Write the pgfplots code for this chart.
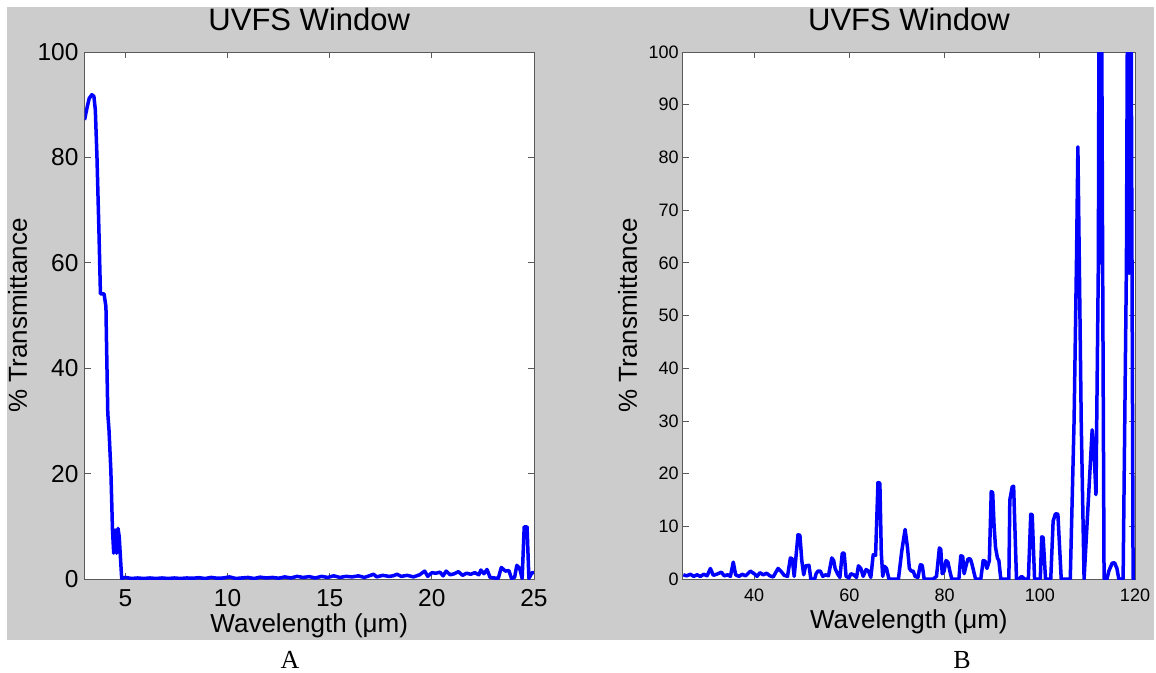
\documentclass[border=0pt]{standalone}
\usepackage{fontspec}
\setmainfont{Liberation Sans}
\newfontfamily\timesfont{Liberation Serif}
\usepackage{pgfplots}
\pgfplotsset{compat=1.18}
\definecolor{figgray}{RGB}{204,204,204}
\definecolor{axcol}{RGB}{90,90,90}
\pgfplotsset{
  matlab/.style={
    scale only axis,
    axis background/.style={fill=white},
    axis line style={draw=axcol, line width=0.8pt},
    every tick/.style={draw=axcol, line width=0.8pt},
    major tick length=6pt,
    tick align=inside,
    ymin=0, ymax=100,
    /pgf/number format/assume math mode=true,
    title={UVFS Window},
    every axis title/.style={at={(axis description cs:0.5,1.0417)}, anchor=base, inner sep=0pt, font=\fontsize{31}{37}\selectfont},
    xlabel={Wavelength (μm)},
    ylabel={\% Transmittance},
  },
}
\begin{document}
\begin{tikzpicture}[x=1pt,y=1pt]
\useasboundingbox (0,0) rectangle (1156,-672);
\fill[white] (0,0) rectangle (1156,-672);
\fill[figgray] (7,-7) rectangle (1154,-640);

\begin{axis}[matlab,
  at={(84.5pt,-579pt)}, anchor=south west,
  width=449.5pt, height=527pt,
  xmin=3, xmax=25,
  xtick={5,10,15,20,25}, ytick={0,20,40,60,80,100},
  xticklabel style={anchor=base, inner sep=0pt, yshift=-27.7pt, font=\fontsize{24.5}{29}\selectfont},
  yticklabel style={anchor=east, inner sep=0pt, xshift=-5.8pt, font=\fontsize{24.5}{29}\selectfont},
  every axis x label/.style={at={(axis description cs:0.5,-0.1006)}, anchor=base, inner sep=0pt, font=\fontsize{26}{31}\selectfont},
  every axis y label/.style={at={(axis description cs:-0.128,0.5)}, rotate=90, anchor=base, inner sep=0pt, font=\fontsize{26}{31}\selectfont},
]
\addplot[blue, line width=3.5pt, line join=round] coordinates {
(3.0,87.1) (3.14,89.7) (3.23,91.2) (3.36,91.9) (3.46,91.6) (3.53,89) (3.61,80.1)
(3.71,65.5) (3.78,54.1) (3.96,54.1) (4.05,51.6) (4.07,46.5) (4.14,31.4) (4.2,28.2)
(4.29,20.6) (4.37,9.3) (4.43,4.9) (4.5,9.3) (4.57,4.9) (4.64,9.6) (4.7,8) (4.82,0.1)
(5.0,0.3) (5.3,0.1) (5.6,0.2) (5.9,0.1) (6.2,0.2) (6.5,0.1) (6.8,0.2) (7.1,0.1)
(7.4,0.2) (7.7,0.1) (8.0,0.2) (8.3,0.15) (8.6,0.25) (8.9,0.1) (9.2,0.3) (9.5,0.15)
(9.8,0.2) (10.1,0.4) (10.4,0.1) (10.7,0.2) (11.0,0.3) (11.3,0.1) (11.6,0.35) (11.9,0.2)
(12.2,0.3) (12.5,0.15) (12.8,0.4) (13.1,0.2) (13.4,0.5) (13.7,0.3) (14.0,0.45) (14.3,0.2)
(14.6,0.5) (14.9,0.3) (15.2,0.6) (15.5,0.3) (15.8,0.5) (16.1,0.4) (16.4,0.6) (16.7,0.3)
(17.0,0.7) (17.15,0.9) (17.3,0.4) (17.6,0.7) (17.9,0.5) (18.1,0.6) (18.3,0.9) (18.5,0.5)
(18.8,0.7) (19.1,0.4) (19.4,0.8) (19.65,1.5) (19.8,0.5) (20.0,1.2) (20.2,1.1) (20.4,1.3)
(20.55,0.6) (20.7,1.5) (20.9,0.8) (21.1,1.0) (21.3,1.4) (21.5,0.7) (21.7,1.1) (21.9,0.9)
(22.1,1.2) (22.3,0.8) (22.4,1.7) (22.55,1.0) (22.7,1.8) (22.85,0.3) (23.05,0.2) (23.25,0.1)
(23.4,2.2) (23.6,1.5) (23.77,1.6) (23.9,0.1) (24.05,0.3) (24.16,2.6) (24.3,2.0) (24.42,0.1)
(24.52,9.9) (24.66,9.9) (24.75,0.1) (24.9,1.2) (25.0,1.2)
};
\end{axis}

\begin{axis}[matlab,
  at={(682.8pt,-579pt)}, anchor=south west,
  width=452.2pt, height=527pt,
  xmin=25, xmax=120,
  xtick={40,60,80,100,120}, ytick={0,10,...,100},
  xticklabel style={anchor=base, inner sep=0pt, yshift=-22.7pt, font=\fontsize{18}{22}\selectfont},
  yticklabel style={anchor=east, inner sep=0pt, xshift=-4pt, font=\fontsize{18}{22}\selectfont},
  every axis x label/.style={at={(axis description cs:0.5,-0.093)}, anchor=base, inner sep=0pt, font=\fontsize{26}{31}\selectfont},
  every axis y label/.style={at={(axis description cs:-0.1017,0.5)}, rotate=90, anchor=base, inner sep=0pt, font=\fontsize{26}{31}\selectfont},
]
\addplot[blue, line width=3.5pt, line join=round] coordinates {
(25.1,0.8) (25.8,0.6) (26.6,0.9) (27.3,0.5) (28.0,0.8) (28.7,0.5) (29.4,0.9) (30.1,0.6)
(30.8,2.0) (31.4,0.7) (32.1,0.9) (33.1,1.3) (33.7,0.6) (34.4,0.8) (35.0,0.5) (35.6,3.2)
(36.1,0.8) (36.8,0.5) (37.5,0.9) (38.2,0.6) (39.2,1.5) (40.0,1.0) (40.6,0.5) (41.2,1.2)
(41.9,0.8) (42.6,1.1) (43.3,0.6) (44.0,0.4) (45.0,2.0) (45.6,1.5) (46.3,0.7) (47.0,0.5)
(47.6,4.0) (48.0,3.8) (48.4,0.5) (49.2,8.4) (49.6,8.3) (50.0,3.5) (50.4,0.8) (50.8,2.5)
(51.5,2.6) (51.9,0) (52.7,0) (53.0,1.0) (53.4,1.5) (53.9,1.5) (54.4,0.5) (55.0,0.8)
(55.6,0.6) (56.3,4.0) (56.7,3.5) (57.0,2.0) (57.5,1.0) (58.0,0.3) (58.5,4.9) (58.9,4.9)
(59.3,0.5) (59.9,0.2) (60.3,1.0) (60.9,0.8) (61.5,0.3) (61.9,2.5) (62.4,2.0) (62.9,0.5)
(63.5,1.8) (64.0,1.5) (64.5,0.3) (65.0,4.6) (65.5,4.5) (66.0,18.3) (66.4,18.2) (66.7,5)
(67.0,0.5) (67.4,2.4) (67.8,2.0) (68.3,0) (70.3,0) (71.0,5.3) (71.7,9.4) (72.2,6)
(72.6,2.0) (73.0,1.5) (73.4,1.5) (73.8,0.5) (74.4,0.3) (74.9,2.7) (75.3,2.6) (75.7,0)
(77.6,0) (78.3,0.5) (78.9,5.9) (79.2,5.6) (79.5,1.0) (79.9,1.5) (80.3,3.5) (80.7,3.2)
(81.1,1.5) (81.5,0) (83.0,0) (83.4,4.4) (83.8,4.3) (84.1,1.0) (84.5,2.5) (84.9,3.8)
(85.4,3.8) (85.7,3.0) (86.5,0) (87.6,0) (88.1,3.5) (88.5,3.4) (88.9,2.0) (89.4,3.5)
(89.8,16.6) (90.1,16.4) (90.4,10) (90.7,6) (91.1,4) (91.4,3.5) (91.8,0) (93.5,0)
(93.7,15) (94.2,17.5) (94.5,17.6) (95.1,0) (95.7,0) (96.0,0.4) (96.4,0.4) (96.6,0)
(97.6,0) (98.1,12.3) (98.4,12.2) (98.9,0) (100.1,0) (100.4,8.0) (100.7,7.9) (101.2,0)
(102.3,0) (102.8,11.0) (103.3,12.4) (103.8,12.3) (104.5,0) (106.4,0) (107.2,30)
(107.7,60) (108.0,82) (108.3,60) (108.7,30) (109.3,0) (110.2,15) (111.0,28.3) (111.4,24)
(111.8,16) (112.3,60) (112.5,130) (112.8,60) (112.9,130) (113.2,60) (113.5,0) (114.1,0) (114.5,1.5)
(115.2,3.0) (115.7,3.1) (116.2,2) (116.6,0) (117.5,0) (118.2,60) (118.5,130) (118.8,58)
(119.1,130) (119.6,0) (120,0)
};
\end{axis}

\node[font=\timesfont\fontsize{26}{30}\selectfont, anchor=base, inner sep=0pt] at (290,-668) {A};
\node[font=\timesfont\fontsize{26}{30}\selectfont, anchor=base, inner sep=0pt] at (962,-668) {B};
\end{tikzpicture}
\end{document}
